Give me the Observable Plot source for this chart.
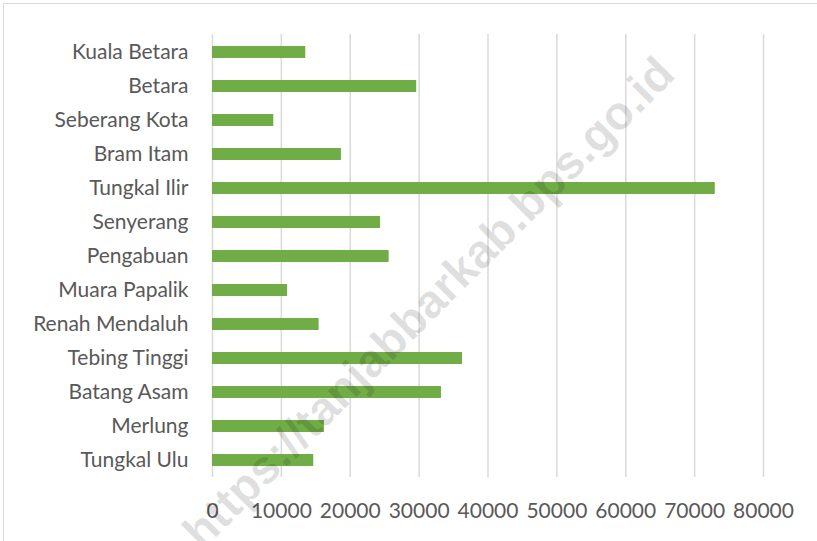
<!DOCTYPE html>
<html>
<head>
<meta charset="utf-8">
<script src="https://cdn.jsdelivr.net/npm/d3@7"></script>
<script src="https://cdn.jsdelivr.net/npm/@observablehq/plot@0.6"></script>
<style>
  html, body { margin: 0; padding: 0; background: #fff; }
  #wrap { position: relative; width: 817px; height: 541px; overflow: hidden; }
  #border { position: absolute; left: 3px; top: 3px; width: 820px; height: 545px; border: 1px solid #d9d9d9; box-sizing: border-box; pointer-events: none; }
  #wm { position: absolute; left: 428px; top: 302px; transform: translate(-50%, -50%) rotate(-45deg);
        font-family: "Liberation Sans", Arial, sans-serif; font-weight: bold; font-size: 47px; color: rgba(0,0,0,0.13);
        white-space: nowrap; pointer-events: none; }
</style>
</head>
<body>
<div id="wrap">
  <div id="chart"></div>
  <div id="border"></div>
  <div id="wm">https://tanjabbarkab.bps.go.id</div>
</div>
<script>
const categories = ["Kuala Betara", "Betara", "Seberang Kota", "Bram Itam", "Tungkal Ilir", "Senyerang", "Pengabuan", "Muara Papalik", "Renah Mendaluh", "Tebing Tinggi", "Batang Asam", "Merlung", "Tungkal Ulu"];
const values = [13540, 29650, 8900, 18720, 73000, 24400, 25650, 10900, 15480, 36300, 33240, 16250, 14700];
const xTicks = [0, 10000, 20000, 30000, 40000, 50000, 60000, 70000, 80000];

const data = categories.map((c, i) => ({category: c, value: values[i]}));

const chart = Plot.plot({
  width: 817,
  height: 541,
  marginLeft: 212,
  marginRight: 54,
  marginTop: 34,
  marginBottom: 64,
  style: {fontFamily: "Lato, sans-serif", fontSize: "21px", color: "#595959", background: "transparent"},
  x: {domain: [0, 80000], ticks: xTicks, tickFormat: d => String(d)},
  y: {domain: categories, paddingInner: 0.66, paddingOuter: 0.29},
  marks: [
    Plot.gridX(xTicks, {stroke: "#d9d9d9", strokeOpacity: 1, strokeWidth: 1.5}),
    Plot.barX(data, {y: "category", x: "value", fill: "#70ad47"}),
    Plot.axisX({ticks: xTicks, tickSize: 0, tickPadding: 26, label: null, fill: "#595959", tickFormat: d => String(d)}),
    Plot.axisY({tickSize: 0, tickPadding: 24, label: null, fill: "#595959"})
  ]
});
document.getElementById("chart").appendChild(chart);
</script>
</body>
</html>
